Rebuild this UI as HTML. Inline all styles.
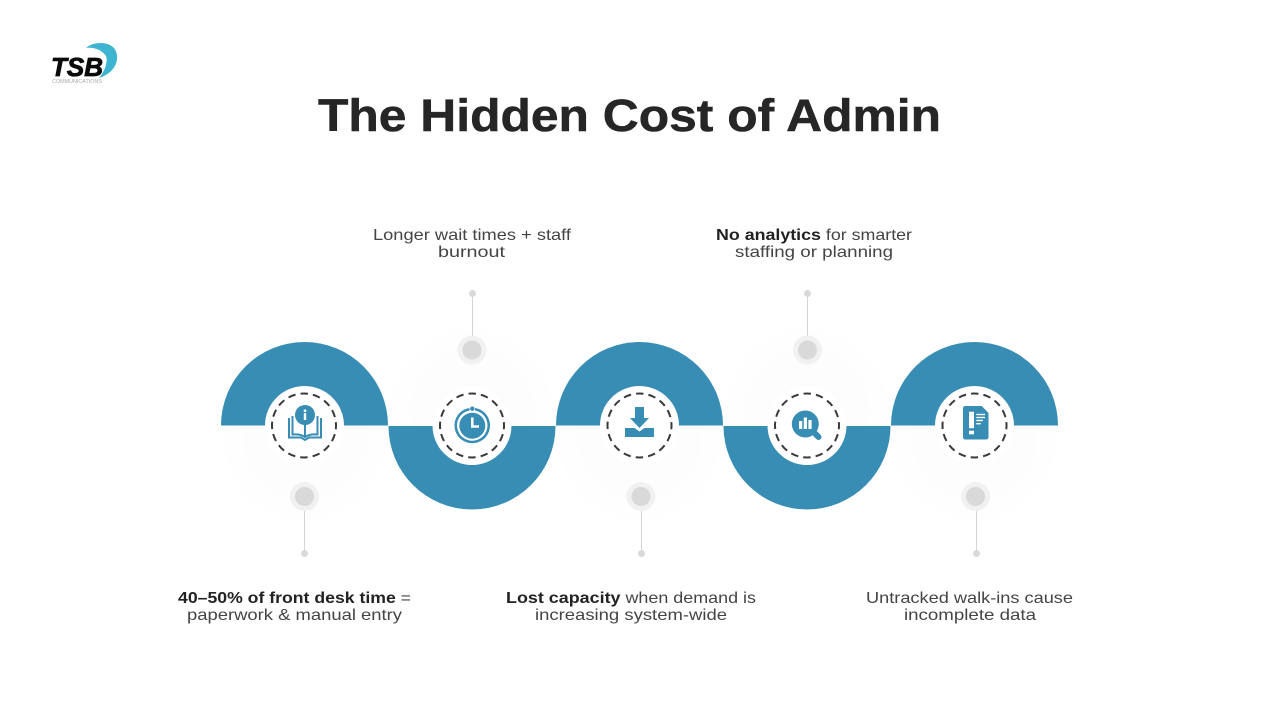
<!DOCTYPE html>
<html lang="en">
<head>
<meta charset="utf-8">
<title>The Hidden Cost of Admin</title>
<style>
html,body{margin:0;padding:0;background:#fff;width:1280px;height:720px;overflow:hidden}
svg{display:block}
text{font-family:"Liberation Sans",sans-serif}
.t{font-size:16px;fill:#444}
.t tspan.b{font-weight:700;fill:#222}
</style>
</head>
<body>
<svg width="1280" height="720" viewBox="0 0 1280 720" xmlns="http://www.w3.org/2000/svg">
<defs>
<radialGradient id="g"><stop offset="0" stop-color="#f5f5f5"/><stop offset=".7" stop-color="#f9f9f9"/><stop offset="1" stop-color="#fff"/></radialGradient>
</defs>
<rect width="1280" height="720" fill="#fff"/>

<!-- soft glow -->
<circle cx="304.500" cy="440" r="85" fill="url(#g)" opacity=".3"/>
<circle cx="472" cy="410" r="85" fill="url(#g)" opacity=".3"/>
<circle cx="639.500" cy="440" r="85" fill="url(#g)" opacity=".3"/>
<circle cx="807" cy="410" r="85" fill="url(#g)" opacity=".3"/>
<circle cx="974.500" cy="440" r="85" fill="url(#g)" opacity=".3"/>

<!-- logo -->
<path d="M86 48C92 42 106 41 113 47C121 55 118 72 99 78C105 71 108 62 106 56C102 50 94 47 86 48Z" fill="#3fb4d0"/>
<text x="51" y="76" font-size="26" font-weight="700" font-style="italic" fill="#0a0a0a" stroke="#0a0a0a" stroke-width=".8" textLength="52" lengthAdjust="spacingAndGlyphs">TSB</text>
<text x="52" y="83" font-size="5" fill="#aaa" textLength="50" lengthAdjust="spacingAndGlyphs">COMMUNICATIONS</text>

<!-- title -->
<text x="318" y="131" font-size="45" font-weight="700" fill="#262626" stroke="#262626" stroke-width=".5" textLength="623" lengthAdjust="spacingAndGlyphs">The Hidden Cost of Admin</text>

<!-- wave -->
<g fill="#378db3">
<path d="M221 425.500A83.500 83.500 0 0 1 388 425.500Z"/>
<path d="M388.500 426A83.500 83.500 0 0 0 555.500 426Z"/>
<path d="M556 425.500A83.500 83.500 0 0 1 723 425.500Z"/>
<path d="M723.500 426A83.500 83.500 0 0 0 890.500 426Z"/>
<path d="M891 425.500A83.500 83.500 0 0 1 1058 425.500Z"/>
</g>

<!-- centres -->
<g fill="#fff">
<circle cx="304.500" cy="425.500" r="39.500"/>
<circle cx="472" cy="425.500" r="39.500"/>
<circle cx="639.500" cy="425.500" r="39.500"/>
<circle cx="807" cy="425.500" r="39.500"/>
<circle cx="974.500" cy="425.500" r="39.500"/>
</g>
<g fill="none" stroke="#3a3a3a" stroke-width="2" stroke-dasharray="7.500 5.066" stroke-dashoffset="3.750">
<circle cx="304" cy="425.500" r="32"/>
<circle cx="472" cy="425.500" r="32"/>
<circle cx="639.500" cy="425.500" r="32"/>
<circle cx="807" cy="425.500" r="32"/>
<circle cx="974.500" cy="425.500" r="32"/>
</g>

<!-- connectors -->
<g stroke="#d4d4d4" stroke-width="1">
<line x1="472.500" y1="294" x2="472.500" y2="338"/>
<line x1="807.500" y1="294" x2="807.500" y2="338"/>
<line x1="304.500" y1="510" x2="304.500" y2="553"/>
<line x1="641.500" y1="510" x2="641.500" y2="553"/>
<line x1="976.500" y1="510" x2="976.500" y2="553"/>
</g>
<g fill="#f1f1f1">
<circle cx="472" cy="350" r="14.500"/><circle cx="807.500" cy="350" r="14.500"/>
<circle cx="304.500" cy="496.500" r="14.500"/><circle cx="641" cy="496.500" r="14.500"/><circle cx="975.500" cy="496.500" r="14.500"/>
</g>
<g fill="#d9d9d9">
<circle cx="472" cy="350" r="9.500"/><circle cx="807.500" cy="350" r="9.500"/>
<circle cx="304.500" cy="496.500" r="9.500"/><circle cx="641" cy="496.500" r="9.500"/><circle cx="975.500" cy="496.500" r="9.500"/>
<circle cx="472.500" cy="293.500" r="3.500"/><circle cx="807.500" cy="293.500" r="3.500"/>
<circle cx="304.500" cy="553.500" r="3.500"/><circle cx="641.500" cy="553.500" r="3.500"/><circle cx="976.500" cy="553.500" r="3.500"/>
</g>

<!-- book icon -->
<g>
<path d="M289 418V437.500H301L305 440L309 437.500H321V418" fill="none" stroke="#378db3" stroke-width="2"/>
<path d="M292.500 416V434.500C297 434 301.500 434.500 305 437C308.500 434.500 313 434 317.500 434.500V416" fill="none" stroke="#378db3" stroke-width="2"/>
<line x1="305" y1="422" x2="305" y2="437" stroke="#378db3" stroke-width="2"/>
<circle cx="305" cy="415" r="10" fill="#378db3"/>
<circle cx="305" cy="410.800" r="1.400" fill="#fff"/>
<rect x="303.800" y="413.200" width="2.400" height="6.800" fill="#fff"/>
</g>

<!-- stopwatch icon -->
<g>
<path d="M469.500 409.200A16.500 16.500 0 1 0 475 409.200" fill="none" stroke="#378db3" stroke-width="2.500"/>
<circle cx="472.300" cy="408.700" r="2.200" fill="#378db3"/>
<circle cx="472.300" cy="425.700" r="13" fill="#378db3"/>
<path d="M472.300 417.500V426.500H479" fill="none" stroke="#fff" stroke-width="2.500"/>
</g>

<!-- download icon -->
<g fill="#378db3">
<rect x="635" y="407" width="9" height="12"/>
<path d="M630 418H649L639.500 428Z"/>
<path d="M625 428H634.500L639.500 431.500L644.500 428H654V437H625Z"/>
</g>

<!-- analytics icon -->
<g>
<line x1="815" y1="433.500" x2="818.500" y2="437" stroke="#378db3" stroke-width="6" stroke-linecap="round"/>
<circle cx="805.300" cy="424" r="13.500" fill="#378db3"/>
<g fill="#fff">
<rect x="799" y="421" width="3.200" height="8"/>
<rect x="803.800" y="417.500" width="3.200" height="11.500"/>
<rect x="808.400" y="420" width="3.200" height="9"/>
</g>
</g>

<!-- document icon -->
<g>
<path d="M965.500 406H981.700L988.500 413V437Q988.500 439.500 986 439.500H965.500Q963 439.500 963 437V408.500Q963 406 965.500 406Z" fill="#378db3"/>
<g fill="#fff">
<rect x="969" y="411.700" width="5" height="16.500"/>
<rect x="969" y="430.700" width="5" height="3.600"/>
<rect x="976.300" y="413.800" width="8.700" height="1.400"/>
<rect x="976.300" y="416.800" width="8.700" height="1.400"/>
<rect x="976.300" y="419.800" width="6.500" height="1.400"/>
<rect x="976.300" y="423" width="4.500" height="1.400"/>
</g>
</g>

<!-- labels -->
<text class="t" x="373" y="240" textLength="198" lengthAdjust="spacingAndGlyphs">Longer wait times + staff</text>
<text class="t" x="438" y="257" textLength="67" lengthAdjust="spacingAndGlyphs">burnout</text>

<text class="t" x="716" y="240" textLength="196" lengthAdjust="spacingAndGlyphs"><tspan class="b">No analytics</tspan> for smarter</text>
<text class="t" x="735" y="257" textLength="158" lengthAdjust="spacingAndGlyphs">staffing or planning</text>

<text class="t" x="178" y="603" textLength="233" lengthAdjust="spacingAndGlyphs"><tspan class="b">40–50% of front desk time</tspan> =</text>
<text class="t" x="187" y="620" textLength="215" lengthAdjust="spacingAndGlyphs">paperwork &amp; manual entry</text>

<text class="t" x="506" y="603" textLength="250" lengthAdjust="spacingAndGlyphs"><tspan class="b">Lost capacity</tspan> when demand is</text>
<text class="t" x="535" y="620" textLength="192" lengthAdjust="spacingAndGlyphs">increasing system-wide</text>

<text class="t" x="866" y="603" textLength="207" lengthAdjust="spacingAndGlyphs">Untracked walk-ins cause</text>
<text class="t" x="904" y="620" textLength="132" lengthAdjust="spacingAndGlyphs">incomplete data</text>
</svg>
</body>
</html>
